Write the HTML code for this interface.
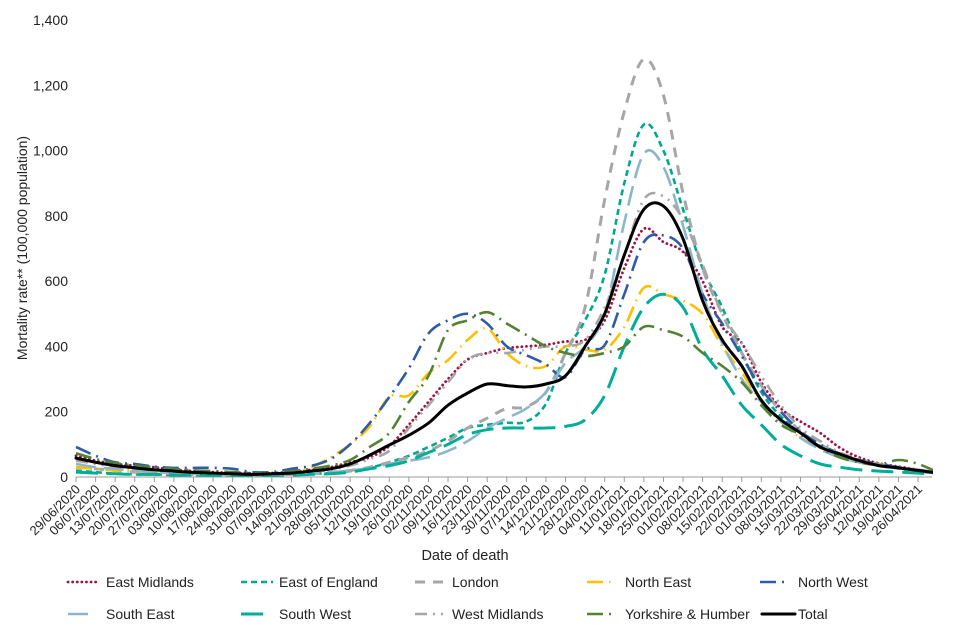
<!DOCTYPE html>
<html><head><meta charset="utf-8">
<style>
html,body{margin:0;padding:0;background:#fff;}
svg{display:block;font-family:"Liberation Sans",Arial,sans-serif;}
</style></head>
<body>
<svg id="chart" width="960" height="640" viewBox="0 0 960 640" xmlns="http://www.w3.org/2000/svg">
<defs><clipPath id="plotclip"><rect x="70" y="10" width="863" height="470"/></clipPath></defs>
<g id="yaxis"></g>
<g id="xaxis"></g>
<g id="series" clip-path="url(#plotclip)"></g>
<text x="0" y="0" transform="translate(27,248) rotate(-90)" text-anchor="middle" font-size="14" fill="#222">Mortality rate** (100,000 population)</text>
<text x="465" y="560" text-anchor="middle" font-size="14.5" fill="#222">Date of death</text>
<g id="legend"></g>
</svg>
<script>
const dates = ["29/06/2020","06/07/2020","13/07/2020","20/07/2020","27/07/2020","03/08/2020","10/08/2020","17/08/2020","24/08/2020","31/08/2020","07/09/2020","14/09/2020","21/09/2020","28/09/2020","05/10/2020","12/10/2020","19/10/2020","26/10/2020","02/11/2020","09/11/2020","16/11/2020","23/11/2020","30/11/2020","07/12/2020","14/12/2020","21/12/2020","28/12/2020","04/01/2021","11/01/2021","18/01/2021","25/01/2021","01/02/2021","08/02/2021","15/02/2021","22/02/2021","01/03/2021","08/03/2021","15/03/2021","22/03/2021","29/03/2021","05/04/2021","12/04/2021","19/04/2021","26/04/2021"];
const yTicks = [0,200,400,600,800,1000,1200,1400];
const yTickLabels = ["0","200","400","600","800","1,000","1,200","1,400"];
const eastMidlands = [65,50,40,35,30,22,18,15,12,12,12,15,22,30,45,60,95,160,230,300,360,380,395,400,405,415,420,480,640,760,720,690,600,460,410,290,210,170,135,90,60,42,32,22,12];
const eastOfEngland = [20,15,10,8,8,6,6,5,5,5,6,8,10,12,18,28,45,65,92,120,150,160,166,170,225,380,480,620,900,1080,1000,820,640,520,380,260,185,135,95,70,48,35,26,18,10];
const london = [30,25,20,15,12,10,8,8,6,6,6,8,10,15,20,30,45,60,80,110,150,180,210,215,260,380,520,850,1120,1280,1170,870,640,500,380,280,200,140,100,70,50,38,28,20,12];
const northEast = [30,25,20,18,15,12,10,10,8,8,10,15,30,60,100,155,245,250,318,358,420,455,380,340,340,400,390,390,460,580,560,540,500,400,320,230,170,120,90,65,45,35,28,20,12];
const northWest = [92,65,45,40,32,28,28,28,25,15,15,25,34,55,100,165,245,333,440,480,500,470,400,373,345,306,390,404,560,720,740,700,560,470,370,270,200,140,100,72,52,40,30,22,14];
const southEast = [40,30,25,20,15,12,10,8,8,6,6,8,10,14,20,28,40,50,60,80,110,150,180,210,260,350,400,500,780,990,950,770,560,410,300,230,170,120,85,60,45,35,26,18,10];
const southWest = [15,12,10,8,8,6,6,5,5,5,5,6,8,10,15,25,35,50,75,100,130,145,150,150,150,155,175,250,400,520,560,520,390,310,220,160,100,65,40,30,22,18,15,12,8];
const westMidlands = [50,40,30,25,20,15,12,10,10,8,8,10,15,22,35,55,80,150,220,290,360,380,380,390,400,400,420,520,680,850,860,790,650,500,410,310,220,150,110,75,55,40,30,22,12];
const yorkshire = [73,55,43,35,30,25,20,18,15,12,12,18,25,35,52,92,135,230,310,450,480,505,470,435,400,380,370,380,400,460,450,430,380,340,290,220,160,130,90,60,45,38,52,40,15];
const total = [58,45,35,28,22,18,14,12,10,8,10,12,18,25,40,67,98,128,165,220,257,285,280,276,285,310,400,500,680,820,830,730,540,420,340,235,175,135,92,70,50,35,28,20,12];

const X0=76, XSTEP=(918-76)/43, Y0=477, YTOP=20, YMAX=1400;
function xs(i){return X0+i*XSTEP;}
function ys(v){return Y0-(v/YMAX)*(Y0-YTOP);}
const NS="http://www.w3.org/2000/svg";
function mk(tag,attrs,parent){const e=document.createElementNS(NS,tag);for(const k in attrs)e.setAttribute(k,attrs[k]);parent.appendChild(e);return e;}

const ya=document.getElementById('yaxis');
yTicks.forEach((v,i)=>{
  const t=mk('text',{x:68,y:ys(v)+5,'text-anchor':'end','font-size':14,fill:'#222'},ya);
  t.textContent=yTickLabels[i];
  
  
});
const xa=document.getElementById('xaxis');
const axl=mk('line',{x1:X0,y1:Y0,x2:932,y2:Y0,stroke:'#999','stroke-width':1},xa);


dates.forEach((d,i)=>{
  const x=xs(i);
  const tk=mk('line',{x1:x,y1:Y0,x2:x,y2:Y0+5,stroke:'#999','stroke-width':1},xa);
  
  
  const t=mk('text',{x:0,y:0,'text-anchor':'end','font-size':13,fill:'#222',transform:`translate(${x+5},${Y0+13}) rotate(-45)`},xa);
  t.textContent=d;
  
  
});

const seriesDefs=[
 {name:'East Midlands',data:eastMidlands,color:'#A0153E',dash:'0.1 4.5',w:2.8,cap:'round',id:'east-midlands'},
 {name:'East of England',data:eastOfEngland,color:'#00A88F',dash:'6 4',w:2.6,cap:'butt',id:'east-of-england'},
 {name:'London',data:london,color:'#A6A6A6',dash:'10 8',w:3,cap:'butt',id:'london'},
 {name:'North East',data:northEast,color:'#FFC000',dash:'16 6 1.5 6',w:2.6,cap:'butt',id:'north-east'},
 {name:'North West',data:northWest,color:'#2F5BA8',dash:'16 6 2 6',w:2.6,cap:'butt',id:'north-west'},
 {name:'South East',data:southEast,color:'#8DB5CC',dash:'20 8',w:2.6,cap:'butt',id:'south-east'},
 {name:'South West',data:southWest,color:'#00AE98',dash:'22 9',w:3,cap:'butt',id:'south-west'},
 {name:'West Midlands',data:westMidlands,color:'#A6A6A6',dash:'12 6 2 6 2 6',w:2.6,cap:'butt',id:'west-midlands'},
 {name:'Yorkshire & Humber',data:yorkshire,color:'#548235',dash:'16 6 2 6',w:2.6,cap:'butt',id:'yorkshire-humber'},
 {name:'Total',data:total,color:'#000',dash:'',w:3,cap:'round',id:'total'}
];
function pathFor(data){
  const p=data.map((v,i)=>[xs(i),ys(v)]);
  let d=`M${p[0][0].toFixed(1)},${p[0][1].toFixed(1)}`;
  for(let i=0;i<p.length-1;i++){
    const p0=p[i-1]||p[i],p1=p[i],p2=p[i+1],p3=p[i+2]||p2;
    const c1=[p1[0]+(p2[0]-p0[0])/6,p1[1]+(p2[1]-p0[1])/6];
    const c2=[p2[0]-(p3[0]-p1[0])/6,p2[1]-(p3[1]-p1[1])/6];
    d+=`C${c1[0].toFixed(1)},${c1[1].toFixed(1)} ${c2[0].toFixed(1)},${c2[1].toFixed(1)} ${p2[0].toFixed(1)},${p2[1].toFixed(1)}`;
  }
  return d;
}
const sg=document.getElementById('series');
seriesDefs.forEach(s=>{
  const a={d:pathFor(s.data),fill:'none',stroke:s.color,'stroke-width':s.w,'stroke-linecap':s.cap,'stroke-linejoin':'round'};
  if(s.dash)a['stroke-dasharray']=s.dash;
  const el=mk('path',a,sg);
  
  
});

const lg=document.getElementById('legend');
const legendPos=[[68,100,106,582],[241,273,279,582],[415,443,452,582],[587,612,625,582],[760,784,798,582],
                 [68,92,106,614],[241,265,279,614],[415,445,452,614],[587,612,625,614],[762,795,798,614]];
seriesDefs.forEach((s,i)=>{
  const [x1,x2,tx,y]=legendPos[i];
  const g=mk('g',{},lg);
  
  
  const a={x1:x1,y1:y,x2:x2,y2:y,stroke:s.color,'stroke-width':s.w,'stroke-linecap':s.cap};
  if(s.dash)a['stroke-dasharray']=s.dash;
  mk('line',a,g);
  const t=mk('text',{x:tx,y:y+5,'font-size':14,fill:'#222'},g);
  t.textContent=s.name;
});
</script>
</body></html>
